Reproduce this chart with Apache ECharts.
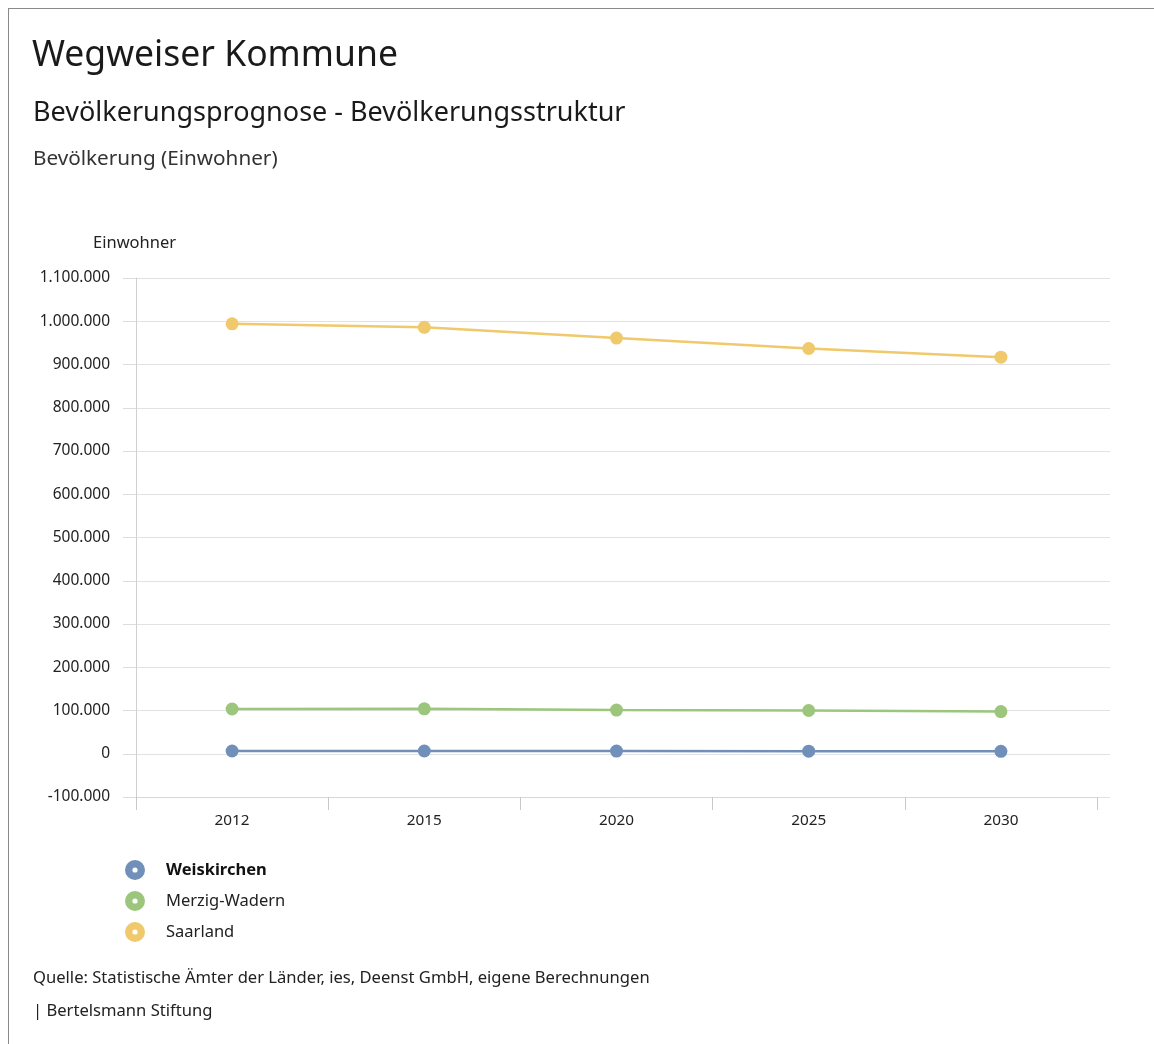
<!DOCTYPE html>
<html>
<head>
<meta charset="utf-8">
<script src="https://cdn.jsdelivr.net/npm/echarts@6/dist/echarts.min.js"></script>
<style>
  html, body { margin: 0; padding: 0; background: #fff; }
  #frame { position: absolute; left: 8px; top: 8px; width: 1200px; height: 1100px; border-left: 1px solid #8a8a8a; border-top: 1px solid #8a8a8a; }
  #chart { position: absolute; left: 0; top: 0; width: 1154px; height: 1044px; }
</style>
</head>
<body>
<div id="frame"></div>
<div id="chart"></div>
<script>
const years = ['2012', '2015', '2020', '2025', '2030'];
const seriesNames = ['Weiskirchen', 'Merzig-Wadern', 'Saarland'];
const weiskirchen = [6400, 6300, 6100, 5900, 5700];
const merzigWadern = [103500, 103800, 101000, 100000, 97500];
const saarland = [994000, 986000, 961000, 937000, 917000];
const yMin = -100000, yMax = 1100000, yStep = 100000;

const colors = ['#7090b9', '#9bc67c', '#efc96b'];
const FONT = 'Noto Sans';

function fmt(v) {
  const s = String(Math.abs(v)).replace(/\B(?=(\d{3})+(?!\d))/g, '.');
  return (v < 0 ? '-' : '') + s;
}

const ring = 'path://M0,-10A10,10,0,1,1,0,10A10,10,0,1,1,0,-10ZM0,-2.6A2.6,2.6,0,1,0,0,2.6A2.6,2.6,0,1,0,0,-2.6Z';

const chart = echarts.init(document.getElementById('chart'));
const values = [weiskirchen, merzigWadern, saarland];

chart.setOption({
  animation: false,
  textStyle: { fontFamily: FONT },
  title: [
    { text: 'Wegweiser Kommune', left: 32, top: 38, padding: 0, textStyle: { fontSize: 35.5, fontWeight: 'normal', color: '#1a1a1a', fontFamily: FONT } },
    { text: 'Bevölkerungsprognose - Bevölkerungsstruktur', left: 33, top: 100, padding: 0, textStyle: { fontSize: 27, fontWeight: 'normal', color: '#1a1a1a', fontFamily: FONT } },
    { text: 'Bevölkerung (Einwohner)', left: 33, top: 149, padding: 0, textStyle: { fontSize: 20.7, fontWeight: 'normal', color: '#333', fontFamily: FONT } },
    { text: 'Einwohner', left: 93, top: 235, padding: 0, textStyle: { fontSize: 16.5, fontWeight: 'normal', color: '#222', fontFamily: FONT } },
    { text: 'Quelle: Statistische Ämter der Länder, ies, Deenst GmbH, eigene Berechnungen', left: 33, top: 970, padding: 0, textStyle: { fontSize: 16.6, fontWeight: 'normal', color: '#222', fontFamily: FONT } },
    { text: '| Bertelsmann Stiftung', left: 33, top: 1003, padding: 0, textStyle: { fontSize: 16.6, fontWeight: 'normal', color: '#222', fontFamily: FONT } }
  ],
  legend: {
    orient: 'vertical',
    left: 125,
    top: 860,
    padding: 0,
    itemWidth: 20,
    itemHeight: 20,
    itemGap: 11,
    icon: ring,
    data: seriesNames,
    formatter: function (n) { return n === 'Weiskirchen' ? '{b|' + n + '}' : '{n|' + n + '}'; },
    textStyle: {
      color: '#222', fontSize: 16.5, fontFamily: FONT,
      rich: {
        b: { fontWeight: 'bold', fontSize: 16.5, color: '#111', fontFamily: FONT, padding: [0, 0, 0, 16] },
        n: { fontSize: 16.5, color: '#222', fontFamily: FONT, padding: [0, 0, 0, 16] }
      }
    }
  },
  grid: [
    { left: 136, right: 44, top: 278, bottom: 247, containLabel: false },
    { left: 136, right: 57, top: 278, bottom: 247, containLabel: false }
  ],
  xAxis: [
    { gridIndex: 0, type: 'value', show: false, min: 0, max: 1 },
    {
      gridIndex: 1, type: 'category', data: years, boundaryGap: true,
      axisLine: { show: true, onZero: false, lineStyle: { color: '#d8d8d8', width: 1 } },
      axisTick: { show: true, length: 13, lineStyle: { color: '#c8c8c8' } },
      axisLabel: { color: '#222', fontSize: 15.3, margin: 16, fontFamily: FONT },
      splitLine: { show: false }
    }
  ],
  yAxis: [
    {
      gridIndex: 0, type: 'value', min: yMin, max: yMax, interval: yStep,
      axisLine: { show: true, lineStyle: { color: '#d0d0d0' } },
      axisTick: { show: true, length: 13, lineStyle: { color: '#dcdcdc' } },
      axisLabel: { color: '#222', fontSize: 15.5, margin: 26, formatter: fmt, fontFamily: FONT },
      splitLine: { show: true, lineStyle: { color: '#e2e2e2', width: 1 } }
    },
    { gridIndex: 1, type: 'value', min: yMin, max: yMax, interval: yStep, show: false, splitLine: { show: false } }
  ],
  series: seriesNames.map(function (name, i) {
    return {
      name: name, type: 'line', xAxisIndex: 1, yAxisIndex: 1,
      data: values[i],
      symbol: 'circle', symbolSize: 13,
      itemStyle: { color: colors[i] },
      lineStyle: { color: colors[i], width: 2.5 },
      z: 3 + i
    };
  })
});
</script>
</body>
</html>
